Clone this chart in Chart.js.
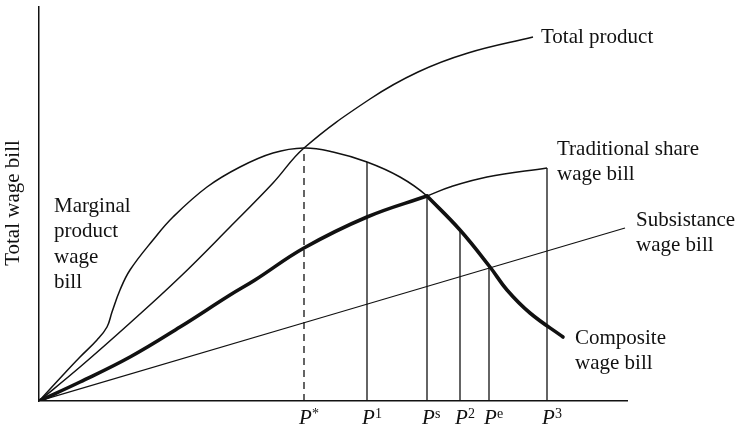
<!DOCTYPE html>
<html>
<head>
<meta charset="utf-8">
<script src="https://cdn.jsdelivr.net/npm/chart.js@4.4.1/dist/chart.umd.min.js"></script>
<style>
  body { margin: 0; background: #fff; }
</style>
</head>
<body>
<canvas id="graficoSalarios" width="737" height="429"></canvas>
<script>
// ---- dados (unidades arbitrárias)

// produto total
const totalProductX = [0, 41, 91, 141, 191, 234, 265, 331, 379, 429, 494];
const totalProductY = [0, 34, 78, 124, 174, 218, 253, 302, 329, 348, 364];

// folha salarial do produto marginal
const marginalX = [0, 24, 41, 58, 68, 73, 81, 91, 114, 134, 168, 201, 234, 265, 294, 328, 361, 388, 421, 451, 468, 491, 524];
const marginalY = [0, 26, 44, 61, 74, 89, 111, 131, 161, 184, 214, 234, 248, 253, 249, 239, 224, 205, 171, 134, 111, 88, 64];

// folha salarial de partilha tradicional
const traditionalX = [0, 41, 91, 141, 191, 216, 265, 328, 388, 411, 448, 508];
const traditionalY = [0, 19, 44, 74, 106, 121, 153, 184, 205, 214, 224, 233];

// folha salarial de subsistência
const subsistenceX = [0, 586];
const subsistenceY = [0, 173];

// pontos marcados no eixo x
const markerSup = ['*', '1', 's', '2', 'e', '3'];
const markerX = [265, 328, 388, 421, 450, 508];
const markerTop = [253, 239, 205, 171, 134, 233];

const psValue = markerX[2]; // P^s: onde a curva composta muda de ramo

// ---- montar o gráfico

const serifFont = '"Liberation Serif", "Times New Roman", serif';
const inkColor = '#111';

const toPoints = (xs, ys) => xs.map((v, i) => ({ x: v, y: ys[i] }));

// curva composta = partilha tradicional até P^s, depois produto marginal
const compositeRise = toPoints(traditionalX, traditionalY).filter(p => p.x <= psValue);
const compositeFall = toPoints(marginalX, marginalY).filter(p => p.x >= psValue);

const thickLine = { borderColor: inkColor, borderWidth: 3.6, borderCapStyle: 'round', borderJoinStyle: 'round' };
const thinLine = { borderColor: inkColor, borderWidth: 1.5 };

const datasets = [
    { label: 'Composite rise', data: compositeRise, ...thickLine },
    { label: 'Composite fall', data: compositeFall, ...thickLine },
    { label: 'Total product', data: toPoints(totalProductX, totalProductY), ...thinLine },
    { label: 'Marginal product wage bill', data: toPoints(marginalX, marginalY), ...thinLine },
    { label: 'Traditional share wage bill', data: toPoints(traditionalX, traditionalY), ...thinLine },
    { label: 'Subsistance wage bill', data: toPoints(subsistenceX, subsistenceY), ...thinLine, borderWidth: 1.2 }
];

// linhas verticais até as curvas
markerX.forEach((mx, i) => {
    datasets.push({
        label: 'P' + markerSup[i],
        data: [{ x: mx, y: 0 }, { x: mx, y: markerTop[i] }],
        borderColor: inkColor,
        borderWidth: 1.3,
        borderDash: i === 0 ? [7, 5] : [],
        tension: 0
    });
});

// rótulos ao lado das curvas
const curveLabels = [
    { lines: ['Total product'], at: [totalProductX[totalProductX.length - 1], totalProductY[totalProductY.length - 1]], dx: 8, dy: 6 },
    { lines: ['Traditional share', 'wage bill'], at: [traditionalX[traditionalX.length - 1], traditionalY[traditionalY.length - 1]], dx: 10, dy: -13 },
    { lines: ['Subsistance', 'wage bill'], at: [subsistenceX[1], subsistenceY[1]], dx: 11, dy: -2 },
    { lines: ['Composite', 'wage bill'], at: [marginalX[marginalX.length - 1], marginalY[marginalY.length - 1]], dx: 12, dy: 7 },
    { lines: ['Marginal', 'product', 'wage', 'bill'], at: [0, 189], dx: 15, dy: 0 }
];

const textPlugin = {
    id: 'textos',
    afterDraw(chart) {
        const { ctx, chartArea, scales: { x, y } } = chart;
        ctx.save();
        ctx.fillStyle = inkColor;
        ctx.textBaseline = 'alphabetic';
        ctx.textAlign = 'left';

        // rótulos das curvas
        ctx.font = '21px ' + serifFont;
        curveLabels.forEach(l => {
            const px = x.getPixelForValue(l.at[0]) + l.dx;
            const py = y.getPixelForValue(l.at[1]) + l.dy;
            l.lines.forEach((t, i) => ctx.fillText(t, px, py + i * 25.3));
        });

        // rótulos do eixo x: P itálico + sobrescrito
        const base = chartArea.bottom + 23;
        markerX.forEach((mx, i) => {
            const cx = x.getPixelForValue(mx) + 1.5;
            ctx.font = 'italic 21px ' + serifFont;
            const w = ctx.measureText('P').width;
            ctx.fillText('P', cx - w / 2, base);
            ctx.font = '14px ' + serifFont;
            ctx.fillText(markerSup[i], cx + w / 2, base - 6);
        });

        // título do eixo y
        ctx.font = '21px ' + serifFont;
        ctx.translate(13, 203);
        ctx.rotate(-Math.PI / 2);
        ctx.textAlign = 'center';
        ctx.textBaseline = 'middle';
        ctx.fillText('Total wage bill', 0, 0);
        ctx.restore();
    }
};

const axisStyle = {
    ticks: { display: false },
    grid: { display: false, drawTicks: false },
    border: { display: true, color: inkColor, width: 1.5 }
};

const ctxGrafico = document.getElementById('graficoSalarios').getContext('2d');

let graficoSalarios = new Chart(ctxGrafico, {
    type: 'line',
    data: { datasets: datasets },
    options: {
        responsive: false,
        animation: false,
        layout: { padding: { left: 39, top: 7, right: 110, bottom: 28 } },
        plugins: {
            legend: { display: false },
            tooltip: { enabled: false }
        },
        elements: {
            point: { radius: 0 },
            line: { fill: false, tension: 0.4 }
        },
        scales: {
            x: { type: 'linear', min: 0, max: 588, ...axisStyle },
            y: { type: 'linear', min: 0, max: 394, ...axisStyle }
        }
    },
    plugins: [textPlugin]
});
</script>
</body>
</html>
